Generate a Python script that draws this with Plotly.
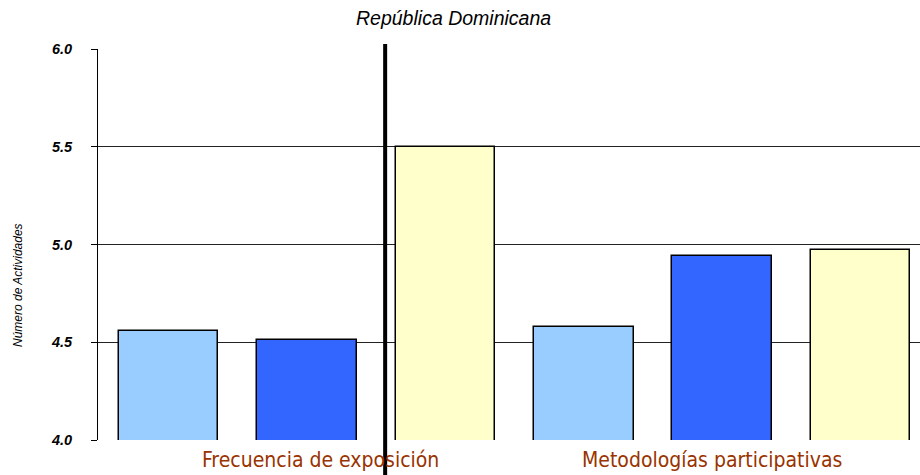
import plotly.graph_objects as go

# Two activity categories, three series each
categories = ["Frecuencia de exposición", "Metodologías participativas"]
series_a = [4.56, 4.58]
series_b = [4.51, 4.94]
series_c = [5.50, 4.97]
series_colors = ["#99CCFF", "#3366FF", "#FFFFCC"]
y_ticks = [4.0, 4.5, 5.0, 5.5, 6.0]

fig = go.Figure()
for j, (vals, col) in enumerate(zip([series_a, series_b, series_c], series_colors)):
    fig.add_trace(go.Bar(
        x=[3 * i + j for i in range(len(categories))],
        y=vals,
        width=0.72,
        marker=dict(color=col, line=dict(color="black", width=1.5)),
        showlegend=False,
        hoverinfo="y",
    ))

fig.update_layout(
    width=920, height=475,
    margin=dict(l=98, r=0, t=49, b=35),
    plot_bgcolor="white", paper_bgcolor="white",
    font=dict(family="Liberation Sans, Arial, sans-serif", color="black"),
    title=dict(text="<i>República Dominicana</i>", x=0.493, xanchor="center",
               y=0.962, yanchor="middle", font=dict(size=19.5)),
    bargap=0,
)
fig.update_xaxes(range=[-0.51, 5.43], showticklabels=False, showgrid=False,
                 zeroline=False, showline=False, ticks="")
fig.update_yaxes(range=[4.0, 6.0], tickvals=y_ticks,
                 ticktext=[f"<b><i>{v:.1f}</i></b>" for v in y_ticks],
                 tickfont=dict(size=14.5), ticks="outside", ticklen=6,
                 tickcolor="black", showgrid=True, gridcolor="#222222",
                 gridwidth=1, showline=True, linecolor="black", linewidth=1,
                 zeroline=False, ticklabelstandoff=16)

# Divider between the two categories
fig.add_shape(type="line", xref="x", yref="paper", x0=1.565, x1=1.565,
              y0=-0.1, y1=1.013, line=dict(color="black", width=4))

# Category labels under the axis
for i, name in enumerate(categories):
    fig.add_annotation(text=name, xref="x", yref="paper",
                       x=3 * i + 1 + (0.095 if i == 0 else -0.07), y=-0.052,
                       yanchor="middle", showarrow=False,
                       font=dict(family="DejaVu Sans Condensed, Liberation Sans Narrow, Liberation Sans, sans-serif",
                                 size=21, color="#993300"))

# Y axis title
fig.add_annotation(text="<i>Número de Actividades</i>", xref="paper", yref="paper",
                   x=-0.097, xanchor="center", y=0.397, yanchor="middle",
                   textangle=-90, showarrow=False, font=dict(size=12))

fig.write_html("out.html")
